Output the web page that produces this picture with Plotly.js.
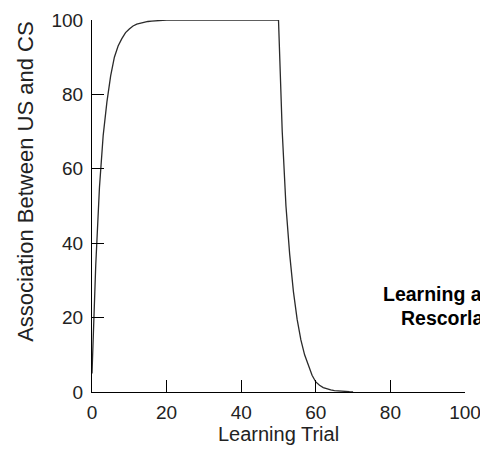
<!DOCTYPE html>
<html>
<head>
<meta charset="utf-8">
<script src="https://cdn.plot.ly/plotly-3.0.1.min.js"></script>
<style>
html, body { margin: 0; padding: 0; background: #fff; }
#chart { width: 480px; height: 449px; }
</style>
</head>
<body>
<div id="chart"></div>
<script>
// Learning trials (acquisition 0-50, extinction 50-70)
const trials = [0,1,2,3,4,5,6,7,8,9,10,11,12,13,14,15,16,17,18,19,20,
  21,22,23,24,25,26,27,28,29,30,31,32,33,34,35,36,37,38,39,40,
  41,42,43,44,45,46,47,48,49,50,51,52,53,54,55,56,57,58,59,60,
  61,62,63,64,65,66,67,68,69,70];
// Association strength between US and CS
const association = [5,34,55,69,78,85,90,93,95,96.6,97.6,98.4,98.9,99.2,99.5,99.6,99.7,99.8,99.9,99.9,100,
  100,100,100,100,100,100,100,100,100,100,100,100,100,100,100,100,100,100,100,100,
  100,100,100,100,100,100,100,100,100,100,70,50,37,27,19.5,14,10,7,4.5,2.7,
  1.8,1.2,0.8,0.55,0.38,0.26,0.18,0.12,0.08,0.05];
const xTicks = [0,20,40,60,80,100];
const yTicks = [0,20,40,60,80,100];
const xTitle = 'Learning Trial';
const yTitle = 'Association Between US and CS';
const noteLines = ['Learning and Extinction', 'Rescorla-Wagner Model'];

const FONT = 'Arial, "Liberation Sans", sans-serif';

const trace = {
  x: trials,
  y: association,
  type: 'scatter',
  mode: 'lines',
  line: { color: '#2a2a2a', width: 1.3 },
  showlegend: false,
  hoverinfo: 'skip'
};

const axisCommon = {
  showgrid: false,
  zeroline: false,
  showline: true,
  linecolor: '#000000',
  linewidth: 1,
  ticks: 'inside',
  ticklen: 12,
  tickwidth: 1,
  tickcolor: '#000000',
  tickfont: { family: FONT, size: 19, color: '#222222' },
  tickmode: 'array',
  ticklabeloverflow: 'allow',
  fixedrange: true
};

const layout = {
  width: 480,
  height: 449,
  margin: { l: 92, r: 15, t: 20, b: 57, pad: 0 },
  paper_bgcolor: '#ffffff',
  plot_bgcolor: '#ffffff',
  showlegend: false,
  xaxis: Object.assign({}, axisCommon, {
    range: [0, 100],
    tickvals: xTicks,
    ticktext: xTicks.map(String),
    ticklabelstandoff: 3,
    title: { text: xTitle, font: { family: FONT, size: 20, color: '#222222' }, standoff: 4 }
  }),
  yaxis: Object.assign({}, axisCommon, {
    range: [0, 100],
    tickvals: yTicks,
    ticktext: yTicks.map(String),
    ticklabelstandoff: 4
  }),
  annotations: [
    {
      text: yTitle,
      xref: 'paper', yref: 'paper',
      x: -0.177, y: 0.565,
      xanchor: 'center', yanchor: 'middle',
      textangle: -90,
      showarrow: false,
      font: { family: FONT, size: 22, color: '#222222' }
    },
    {
      text: '<b>' + noteLines[0] + '</b>',
      xref: 'paper', yref: 'paper',
      x: 0.775, y: 0.263,
      xanchor: 'left', yanchor: 'middle',
      showarrow: false,
      font: { family: FONT, size: 19.5, color: '#000000' }
    },
    {
      text: '<b>' + noteLines[1] + '</b>',
      xref: 'paper', yref: 'paper',
      x: 0.822, y: 0.199,
      xanchor: 'left', yanchor: 'middle',
      showarrow: false,
      font: { family: FONT, size: 19.5, color: '#000000' }
    }
  ]
};

Plotly.newPlot('chart', [trace], layout, { displayModeBar: false, staticPlot: true });
</script>
</body>
</html>
